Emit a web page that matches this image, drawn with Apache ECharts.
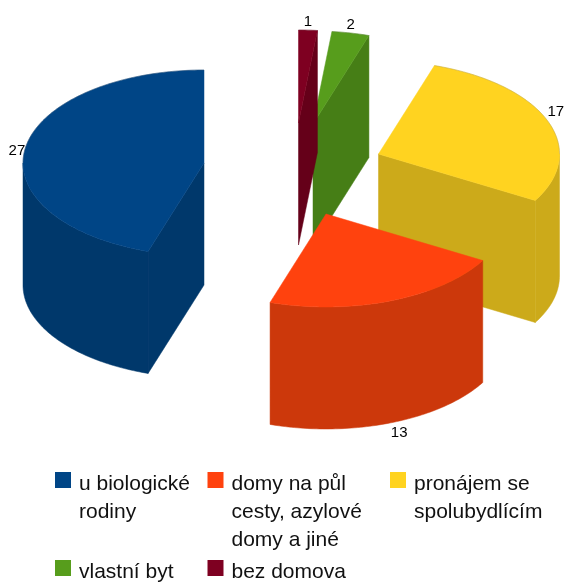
<!DOCTYPE html>
<html>
<head>
<meta charset="utf-8">
<style>html,body{margin:0;padding:0;background:#fff}#c{width:564px;height:582px}</style>
<script src="https://cdn.jsdelivr.net/npm/echarts@6/dist/echarts.min.js"></script>
</head>
<body>
<div id="c"></div>
<script>
// ---- data ----
const categories = ['u biologické rodiny', 'domy na půl cesty, azylové domy a jiné', 'pronájem se spolubydlícím', 'vlastní byt', 'bez domova'];
const values = [27, 13, 17, 2, 1];
const legendLines = [['u biologické', 'rodiny'], ['domy na půl', 'cesty, azylové', 'domy a jiné'], ['pronájem se', 'spolubydlícím'], ['vlastní byt'], ['bez domova']];

// ---- styles and layout ----
const topColors = ['#004586', '#ff420e', '#ffd320', '#579d1c', '#7e0021'];
const wallColors = ['#00386b', '#cc380b', '#ccaa1a', '#467e16', '#650019'];
const paintOrder = [3, 4, 2, 1, 5];            // z of each slice, back to front
const apexX = [204, 326, 378.5, 313, 298.5];   // exploded slice tips
const apexY = [163, 214, 154, 124, 123];
const radiusX = 181, radiusY = 93, wallHeight = 122, startAngle = 90;
const legendLeft = [55, 207.5, 390, 55, 207.5];
const legendTop = [470.5, 470.5, 470.5, 558.5, 558.5];
const lineHeight = 28, swatch = 16, textDrop = 4.5;

const total = values.reduce((a, b) => a + b, 0);
const rad = d => d * Math.PI / 180;

function renderSlice(index, a0, a1) {
  return function (params, api) {
    const v = api.value(0);
    const ax = apexX[index], ay = apexY[index];
    const at = (deg, dy) => [ax + radiusX * Math.cos(rad(deg)), ay - radiusY * Math.sin(rad(deg)) + (dy || 0)];
    const arc = (from, to, dy) => {
      const pts = [];
      const steps = Math.max(2, Math.ceil(Math.abs(to - from)));
      for (let i = 0; i <= steps; i++) pts.push(at(from + (to - from) * i / steps, dy));
      return pts;
    };
    const poly = (points, fill) => ({ type: 'polygon', shape: { points }, style: { fill, stroke: fill, lineWidth: 0.5 } });
    const wallFill = wallColors[index], topFill = topColors[index];
    const children = [];
    const radial = a => poly([[ax, ay], at(a), at(a, wallHeight), [ax, ay + wallHeight]], wallFill);
    if (Math.cos(rad(a0)) > 1e-6) children.push(radial(a0));
    if (Math.cos(rad(a1)) < -1e-6) children.push(radial(a1));
    const lo = Math.max(a0, 180), hi = Math.min(a1, 360);
    if (hi > lo) children.push(poly(arc(lo, hi, 0).concat(arc(hi, lo, wallHeight)), wallFill));
    children.push(poly([[ax, ay]].concat(arc(a0, a1, 0)), topFill));
    // faint rim along the rear part of the top edge
    const rimHi = Math.min(a1, 180), rimLo = a0 >= 360 ? a0 : Math.max(a0, 360);
    if (rimHi > a0 && a0 < 180) children.push({ type: 'polyline', shape: { points: arc(a0, rimHi, 0) }, style: { fill: null, stroke: 'rgba(110,110,110,0.4)', lineWidth: 0.6 } });
    if (a1 > rimLo) children.push({ type: 'polyline', shape: { points: arc(rimLo, Math.min(a1, 540), 0) }, style: { fill: null, stroke: 'rgba(110,110,110,0.4)', lineWidth: 0.6 } });
    // value label just outside the middle of the arc
    const mid = (a0 + a1) / 2, c = Math.cos(rad(mid)), s = Math.sin(rad(mid));
    const anchor = at(mid, s < 0 ? wallHeight : 0);
    const side = Math.abs(s) < 0.2;
    children.push({
      type: 'text',
      style: {
        text: String(v), x: anchor[0], y: anchor[1] + (side ? 2 : (s < 0 ? 3 : -1)),
        fill: '#000', font: '15px "Liberation Sans", Arial, sans-serif',
        align: Math.abs(c) < 0.25 ? 'center' : (c > 0 ? 'left' : 'right'),
        verticalAlign: side ? 'middle' : (s > 0 ? 'bottom' : 'top')
      }
    });
    return { type: 'group', children };
  };
}

let running = startAngle;
const series = categories.map((name, i) => {
  const a0 = running;
  const a1 = a0 + echarts.number.linearMap(values[i], [0, total], [0, 360]);
  running = a1;
  return {
    type: 'custom', name, coordinateSystem: 'none', z: paintOrder[i], silent: true, animation: false,
    itemStyle: { color: topColors[i] },
    data: [[values[i]]],
    renderItem: renderSlice(i, a0, a1)
  };
});

const legend = categories.map((name, i) => {
  const n = legendLines[i].length;
  const h = 2 * (swatch / 2 + textDrop + (n - 1) * lineHeight / 2);
  return {
    data: [{ name, icon: `path://M0,0H${swatch}V${swatch}H0Z M0,${h}L0,${h}`, itemStyle: { color: topColors[i] } }],
    left: legendLeft[i], top: legendTop[i], padding: 0, selectedMode: false,
    itemWidth: swatch, itemHeight: h,
    formatter: () => legendLines[i].join('\n'),
    textStyle: { fontFamily: '"Liberation Sans", Arial, sans-serif', fontSize: 21, lineHeight, color: '#111', padding: [0, 0, 0, 3] }
  };
});

const chart = echarts.init(document.getElementById('c'), null, { renderer: 'canvas' });
chart.setOption({ animation: false, backgroundColor: '#fff', legend, series });
</script>
</body>
</html>
